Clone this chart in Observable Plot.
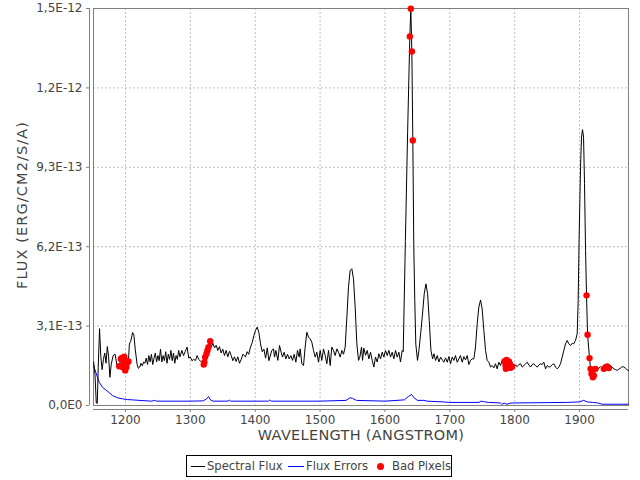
<!DOCTYPE html>
<html><head><meta charset="utf-8">
<script src="https://cdn.jsdelivr.net/npm/d3@7"></script>
<script src="https://cdn.jsdelivr.net/npm/@observablehq/plot@0.6"></script>
<style>
body{margin:0;background:#fff;font-family:"DejaVu Sans",sans-serif;}
#wrap{position:relative;width:640px;height:480px;}
#legend{position:absolute;left:186px;top:455px;width:264px;height:20px;border:1px solid #000;background:#fff;font-size:11.6px;color:#444;}
#legend span{position:absolute;top:3px;white-space:nowrap;line-height:14px;}
#legend i{position:absolute;display:block;}
.ytitle text{letter-spacing:1.1px;}
.xtitle text{letter-spacing:0.3px;}
</style></head><body>
<div id="wrap"><div id="chart"></div>
<div id="legend">
<i style="left:4px;top:10px;width:14px;height:1px;background:#000"></i><span style="left:20px">Spectral Flux</span>
<i style="left:101px;top:10px;width:16px;height:1px;background:#00f"></i><span style="left:119px">Flux Errors</span>
<i style="left:190px;top:7px;width:7px;height:7px;border-radius:50%;background:#f00"></i><span style="left:205px">Bad Pixels</span>
</div></div>
<script>
// Spectral flux (units of 1e-13 erg/cm2/s/A), good pixels
const specWave = [1151,1153,1155,1156.5,1158,1160,1162,1164,1166,1168,1170,1172,1174,1176,1178,1181,1184,1187,
1206,1208,1211,1213,1215,1218,1220,1222,1224,1226,1228,1230,1232,1234,1236,1238,1240,1242,1244,1246,1248,1250,
1252,1254,1256,1258,1260,1262,1264,1266,1268,1270,1272,1274,1276,1278,1280,1282,1284,1287,1289.5,1292,1295,1297.5,
1300,1302.5,1305,1308,1310.5,1313,1316,1318,
1332.2,1334.7,1337.3,1339.8,1342.4,1345,1347.5,1350,1352.6,1355.2,1357.8,1360.4,1363,1365.5,1368,1370.6,1373.2,1375.8,1378.4,1381,1385,1387.6,1390,1392.7,1395.3,1398,1400.5,1403,1405.6,1408.2,1410.8,1413.4,1416,1418.6,1421.1,
1425.6,1428.2,1429.8,1431.8,1434.9,1437.5,1440,1442.1,1444.7,1447.2,1449.8,1452.4,1455,1457.5,1460.1,1462.7,1465.2,1467.8,1469.3,1471.9,1474.5,1477,1479.6,1482.2,1484.8,1487.3,1489.9,1492.5,1495,1497.6,1500.2,1502.7,1505.3,1507.9,1510.4,1513,1515.6,1518.1,1520.7,1523.3,1525.9,1528.4,1531,1533.6,1536.1,1538.7,1541.3,1543.8,1546.4,1549,1551.5,1554.1,1556.7,1559.3,
1561.3,1563.9,1565.5,1567.5,1570.1,1572.7,1575.2,1577.8,1580.4,1582.9,1585.5,1588.1,1590.6,1593.2,1595.8,1598.3,1600.9,1603.5,1606.1,1608.6,1611.2,1613.8,1616.3,1618.9,1621.5,1624,1626.6,1628.2,1631.5,1635,
1644.5,1646,1647.6,1650.2,1652.4,1655,1657.5,1660.6,1663.2,1665.8,1668.3,1670.9,1673.5,1675.5,1678.1,1680.7,1683.2,1685.8,1688.9,
1690.8,1693.4,1696,1698.6,1701.1,1703.7,1706.3,1708.8,1711.4,1714,1716.5,1719.1,1721.7,1724.2,1726.8,1729.4,1731.9,1734.5,1737.1,1739.6,1742.2,1744.8,1747.4,1749.9,1752.5,1755.1,1757.6,1760.2,1762.8,1765.3,1767.9,1770.5,1773,1775.6,1778.2,1780.7,
1798.7,1801.3,1804,1806.5,1809,1811.7,1814.2,1816.8,1819.4,1822,1824.5,1827,1829.6,1832.2,1834.8,1837.3,1839.9,1842.5,1845,1847.6,1850.2,1852.8,1855.3,1857.9,1860.4,1863,1865.6,1868.1,1870.7,1873.3,1875.8,1878.4,1881,1883.5,1886.1,1888.7,1891.2,1893.8,1896.4,1897.9,1899.5,1901.5,1903.1,1904.6,1906.2,1907.7,1909.3,
1928,1932.4,1935,1947.8,1950.4,1952.9,1955.5,1958.1,1960.7,1963.2,1965.8,1968.3,1971,1973.5,1975.5];
const specFlux = [1.7,1.2,0.1,0.08,1.5,3.0,1.9,1.4,1.8,2.05,1.65,2.3,1.9,1.1,1.6,1.95,2.0,1.55,
2.4,2.5,2.85,2.75,2.2,1.6,1.45,1.5,1.65,1.55,1.7,1.65,1.85,1.6,1.95,1.7,2.0,1.6,1.85,2.05,1.7,1.95,
1.75,2.2,1.7,1.95,1.75,2.1,1.65,2.0,1.8,2.15,1.75,2.05,1.65,1.95,1.8,2.15,1.9,2.15,1.95,2.1,2.28,1.85,
1.89,1.75,1.8,1.76,1.95,1.8,1.72,1.65,
2.28,2.43,2.25,2.35,2.15,2.3,2.05,2.2,1.95,2.15,1.9,2.12,1.95,1.75,1.9,1.72,1.9,1.65,1.8,2.0,1.9,2.1,2.0,2.28,2.45,2.73,2.93,3.06,2.86,2.41,2.1,2.2,1.85,2.25,1.75,
2.15,2.21,1.89,2.15,1.76,2.34,2.08,1.89,2.08,1.82,2.0,1.82,1.95,1.76,2.0,1.69,2.15,1.89,2.21,1.63,1.56,2.28,2.86,2.67,2.6,2.47,2.15,1.89,2.08,1.69,2.15,1.76,2.21,1.95,1.63,2.15,1.56,2.28,2.15,1.95,2.21,2.08,1.89,2.15,2.0,2.28,3.45,4.62,5.27,5.34,4.95,3.84,2.41,1.76,
1.89,2.28,1.76,2.24,1.96,2.15,1.82,2.08,1.76,1.5,1.89,1.7,2.02,1.82,2.08,1.89,2.15,1.95,2.15,1.89,2.08,1.82,2.15,1.89,2.08,1.7,2.15,2.1,6.4,10.7,
6.2,4.1,2.4,1.76,2.15,2.8,3.45,4.36,4.75,4.36,3.32,2.15,1.82,2.02,1.76,1.95,1.7,1.89,1.76,
1.69,1.86,1.69,1.91,1.63,1.89,1.76,1.95,1.69,1.82,1.95,1.69,1.91,1.78,1.95,1.6,1.76,1.82,1.82,2.28,3.19,3.84,4.12,3.77,2.93,2.15,1.76,1.69,1.5,1.56,1.47,1.63,1.43,1.69,1.56,1.76,
1.5,1.58,1.52,1.6,1.63,1.5,1.56,1.62,1.69,1.58,1.5,1.6,1.63,1.55,1.5,1.58,1.63,1.6,1.69,1.43,1.56,1.5,1.52,1.6,1.63,1.5,1.43,1.5,1.63,1.89,2.15,2.41,2.54,2.41,2.34,2.43,2.41,2.54,2.8,4.1,6.7,9.3,10.48,10.77,10.48,8.66,6.05,
1.41,1.52,1.45,1.56,1.5,1.43,1.4,1.37,1.42,1.46,1.52,1.5,1.45,1.39,1.37];

// Bad pixels (on the spectrum)
const badWave = [1190.3,1192.8,1194.3,1195.4,1197,1198,1199.6,1200.5,1201.5,1203,1204.6,
1320.7,1321.6,1322.8,1324.9,1326.4,1328,1330.6,
1638.4,1639.9,1641.5,1643.0,
1784.4,1785.9,1786.4,1787.5,1788.5,1789.5,1791.1,1792.6,1793.6,1796.2,
1910.8,1912.4,1915.4,1917,1918.5,1919.6,1920.6,1922.1,1924.7,
1937.5,1940.1,1942.7,1945.2];
const badFlux = [1.53,1.82,1.86,1.5,1.63,1.91,1.37,1.76,1.5,1.69,1.72,
1.6,1.69,1.89,2.02,2.15,2.28,2.51,
14.41,15.49,13.82,10.35,
1.73,1.56,1.43,1.78,1.65,1.5,1.72,1.63,1.47,1.52,
4.3,2.76,1.85,1.43,1.24,1.37,1.1,1.17,1.43,
1.43,1.5,1.52,1.46];

// Flux errors
const errWave = [1150.7,1154.2,1156.9,1159.5,1164.6,1169.7,1174.9,1180,1187.7,1195.4,1203.1,1210.8,1221.2,1240,1245,1248,1300,1320,1325,1328,1331,1335,1358,1360,1362,1400,1420,1422,1425,1500,1540,1546,1550,1556,1600,1630,1636,1641,1645,1650,1660,1665,1690,1700,1745,1748,1752,1760,1778,1780,1784,1788,1793,1800,1880,1900,1906,1912,1920,1928,1935,1975.5];
const errFlux = [1.56,1.3,1.1,0.91,0.71,0.61,0.5,0.39,0.3,0.26,0.23,0.22,0.2,0.17,0.2,0.17,0.17,0.18,0.26,0.35,0.22,0.17,0.17,0.21,0.17,0.17,0.17,0.21,0.17,0.17,0.2,0.3,0.28,0.2,0.17,0.22,0.35,0.43,0.3,0.2,0.2,0.17,0.14,0.12,0.12,0.17,0.15,0.12,0.1,0.05,0.09,0.05,0.09,0.1,0.12,0.14,0.2,0.14,0.12,0.1,0.05,0.05];

const xTicks = [1200,1300,1400,1500,1600,1700,1800,1900];
const xTickLabels = ["1200","1300","1400","1500","1600","1700","1800","1900"];
const yTicks = [0,3.1,6.2,9.3,12.4,15.5];
const yTickLabels = ["0,0E0","3,1E-13","6,2E-13","9,3E-13","1,2E-12","1,5E-12"];
const xTitle = "WAVELENGTH (ANGSTROM)";
const yTitle = "FLUX (ERG/CM2/S/A)";
const xDomain = [1150.7, 1975.5];
const yDomain = [0, 15.5];

const specData = d3.sort(
  specWave.map((w, i) => ({w, f: specFlux[i]})).concat(badWave.map((w, i) => ({w, f: badFlux[i]}))),
  d => d.w);
const errData = errWave.map((w, i) => ({w, f: errFlux[i]}));
const badData = badWave.map((w, i) => ({w, f: badFlux[i]}));
const yLab = new Map(yTicks.map((t, i) => [t, yTickLabels[i]]));
const xLab = new Map(xTicks.map((t, i) => [t, xTickLabels[i]]));

const chart = Plot.plot({
  width: 640, height: 450,
  marginLeft: 93, marginRight: 12, marginTop: 8, marginBottom: 45,
  x: {domain: xDomain},
  y: {domain: yDomain},
  style: {fontFamily: "DejaVu Sans", fontSize: "12px", color: "#444", background: "#fff"},
  marks: [
    Plot.gridY(yTicks, {stroke: "#c0c0c0", strokeOpacity: 1, strokeDasharray: "2,2"}),
    Plot.gridX(xTicks, {stroke: "#c0c0c0", strokeOpacity: 1, strokeDasharray: "2,2"}),
    Plot.frame({stroke: "#808080"}),
    Plot.line(errData, {x: "w", y: "f", stroke: "#0000ff", strokeWidth: 1}),
    Plot.line(specData, {x: "w", y: "f", stroke: "#000000", strokeWidth: 1}),
    Plot.dot(badData, {x: "w", y: "f", r: 3.2, fill: "#ff0000", stroke: "none"}),
    Plot.axisY(yTicks, {tickFormat: d => yLab.get(d), dx: -4, tickSize: 3, tickPadding: 4, stroke: "#808080", fill: "#444", label: null}),
    Plot.ruleX([xDomain[0]], {dx: -4, stroke: "#808080"}),
    Plot.axisX(xTicks, {tickFormat: d => xLab.get(d), dy: 4, tickSize: 3, tickPadding: 3, stroke: "#808080", fill: "#444", label: null}),
    Plot.ruleY([0], {dy: 4, stroke: "#808080"}),
    Plot.text([xTitle], {text: d => d, frameAnchor: "bottom", dy: 34, fontSize: 14.5, fill: "#444", className: "xtitle"}),
    Plot.text([yTitle], {text: d => d, frameAnchor: "left", textAnchor: "middle", dx: -71, dy: -2, rotate: -90, fontSize: 14.5, fill: "#444", className: "ytitle"})
  ]
});
document.getElementById("chart").appendChild(chart);
</script>
</body></html>
